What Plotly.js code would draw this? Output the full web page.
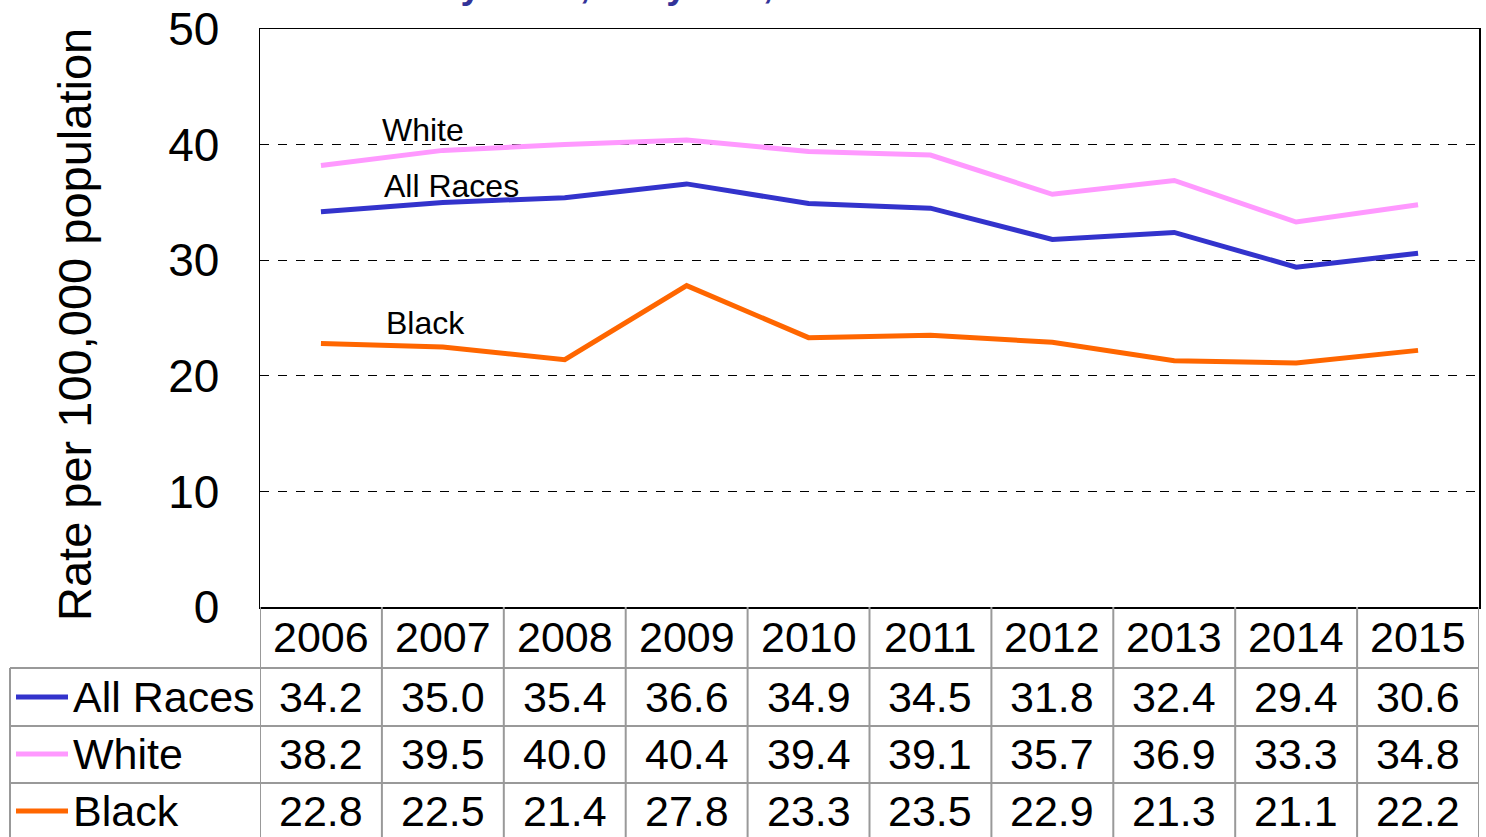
<!DOCTYPE html>
<html><head><meta charset="utf-8">
<script src="https://cdn.plot.ly/plotly-3.0.1.min.js"></script>
<style>html,body{margin:0;padding:0;background:#fff;}#chart{width:1486px;height:837px;}</style>
</head><body><div id="chart"></div>
<script>
const years = [2006, 2007, 2008, 2009, 2010, 2011, 2012, 2013, 2014, 2015];
const allRaces = [34.2, 35.0, 35.4, 36.6, 34.9, 34.5, 31.8, 32.4, 29.4, 30.6];
const white = [38.2, 39.5, 40.0, 40.4, 39.4, 39.1, 35.7, 36.9, 33.3, 34.8];
const black = [22.8, 22.5, 21.4, 27.8, 23.3, 23.5, 22.9, 21.3, 21.1, 22.2];
const seriesNames = ["All Races", "White", "Black"];
const seriesColors = ["#3333CC", "#FF99FF", "#FF6600"];
const yTicks = [0, 10, 20, 30, 40, 50];
const yTitle = "Rate per 100,000 population";
const titleText = "Suicide Rates by Race, Maryland, 2006-2015";

const FONT = "Liberation Sans, Arial, sans-serif";
const W = 1486, H = 837, ML = 260, MR = 7, MT = 29, MB = 230;
const plotW = W - ML - MR, plotH = H - MT - MB;
const py = p => (H - MB - p) / plotH;      // pixel y -> paper y
const px = p => (p - ML) / plotW;          // pixel x -> paper x

const seriesVals = [allRaces, white, black];
const traces = seriesVals.map((v, i) => ({
  x: years, y: v, type: 'scatter', mode: 'lines', name: seriesNames[i],
  line: {color: seriesColors[i], width: 5}, hoverinfo: 'x+y'
}));

const annotations = [];
const shapes = [];
// line labels
const labelPos = [[2007.07, 36.4], [2006.84, 41.3], [2006.86, 24.6]];
seriesNames.forEach((n, i) => annotations.push({
  x: labelPos[i][0], y: labelPos[i][1], xref: 'x', yref: 'y', text: n, showarrow: false,
  font: {family: FONT, size: 32, color: '#000'}, xanchor: 'center', yanchor: 'middle'
}));
// table
const TF = 43;
const headerY = py(637);
const rowY = [py(697), py(754), py(811)];
const hLines = [py(668), py(726), py(783)];
const tableBottom = py(845);
const lineStyle = {color: '#999999', width: 2};
years.forEach((yr, j) => {
  annotations.push({x: yr, y: headerY, xref: 'x', yref: 'paper', text: String(yr), showarrow: false,
    font: {family: FONT, size: TF, color: '#000'}, xanchor: 'center', yanchor: 'middle'});
  seriesVals.forEach((v, i) => annotations.push({x: yr, y: rowY[i], xref: 'x', yref: 'paper',
    text: v[j].toFixed(1), showarrow: false, font: {family: FONT, size: TF, color: '#000'},
    xanchor: 'center', yanchor: 'middle'}));
});
for (let k = 0; k <= years.length; k++) {
  const xv = years[0] - 0.5 + k;
  shapes.push({type: 'line', xref: 'x', yref: 'paper', x0: xv, x1: xv, y0: 0, y1: tableBottom, line: lineStyle});
}
shapes.push({type: 'line', xref: 'paper', yref: 'paper', x0: px(10), x1: px(10), y0: hLines[0], y1: tableBottom, line: lineStyle});
hLines.forEach(h => shapes.push({type: 'line', xref: 'paper', yref: 'paper', x0: px(10), x1: 1, y0: h, y1: h, line: lineStyle}));
// legend keys
seriesNames.forEach((n, i) => {
  shapes.push({type: 'line', xref: 'paper', yref: 'paper', x0: px(16), x1: px(68), y0: rowY[i], y1: rowY[i],
    line: {color: seriesColors[i], width: 5}});
  annotations.push({x: px(71), y: rowY[i], xref: 'paper', yref: 'paper', text: n, showarrow: false,
    font: {family: FONT, size: TF, color: '#000'}, xanchor: 'left', yanchor: 'middle'});
});
// y-axis title
annotations.push({x: px(74), y: py(325), xref: 'paper', yref: 'paper', text: yTitle, textangle: -90, showarrow: false,
  font: {family: FONT, size: 47, color: '#000'}, xanchor: 'center', yanchor: 'middle'});
// cut-off title fragment (only descenders visible, as in the reference)
annotations.push({x: px(962), y: py(8), xref: 'paper', yref: 'paper', text: '<b>' + titleText + '</b>', showarrow: false,
  font: {family: FONT, size: 37, color: '#333399'}, xanchor: 'right', yanchor: 'bottom'});

const layout = {
  width: W, height: H, margin: {l: ML, r: MR, t: MT, b: MB},
  paper_bgcolor: '#fff', plot_bgcolor: '#fff', showlegend: false,
  font: {family: FONT, color: '#000'},
  xaxis: {range: [years[0] - 0.5, years[years.length - 1] + 0.5], showticklabels: false, ticks: '',
    showgrid: false, zeroline: false, showline: true, linecolor: '#000', linewidth: 1.5, mirror: true, fixedrange: true},
  yaxis: {range: [0, 50], tickvals: yTicks, ticktext: yTicks.map(String), tickfont: {family: FONT, size: 46, color: '#000'},
    showgrid: true, gridcolor: '#000', griddash: 'dash', gridwidth: 1, zeroline: false,
    showline: true, linecolor: '#000', linewidth: 1.5, mirror: true, ticks: '', ticklabelstandoff: 30, fixedrange: true},
  annotations: annotations, shapes: shapes
};
Plotly.newPlot('chart', traces, layout, {displayModeBar: false, staticPlot: true});
</script></body></html>
